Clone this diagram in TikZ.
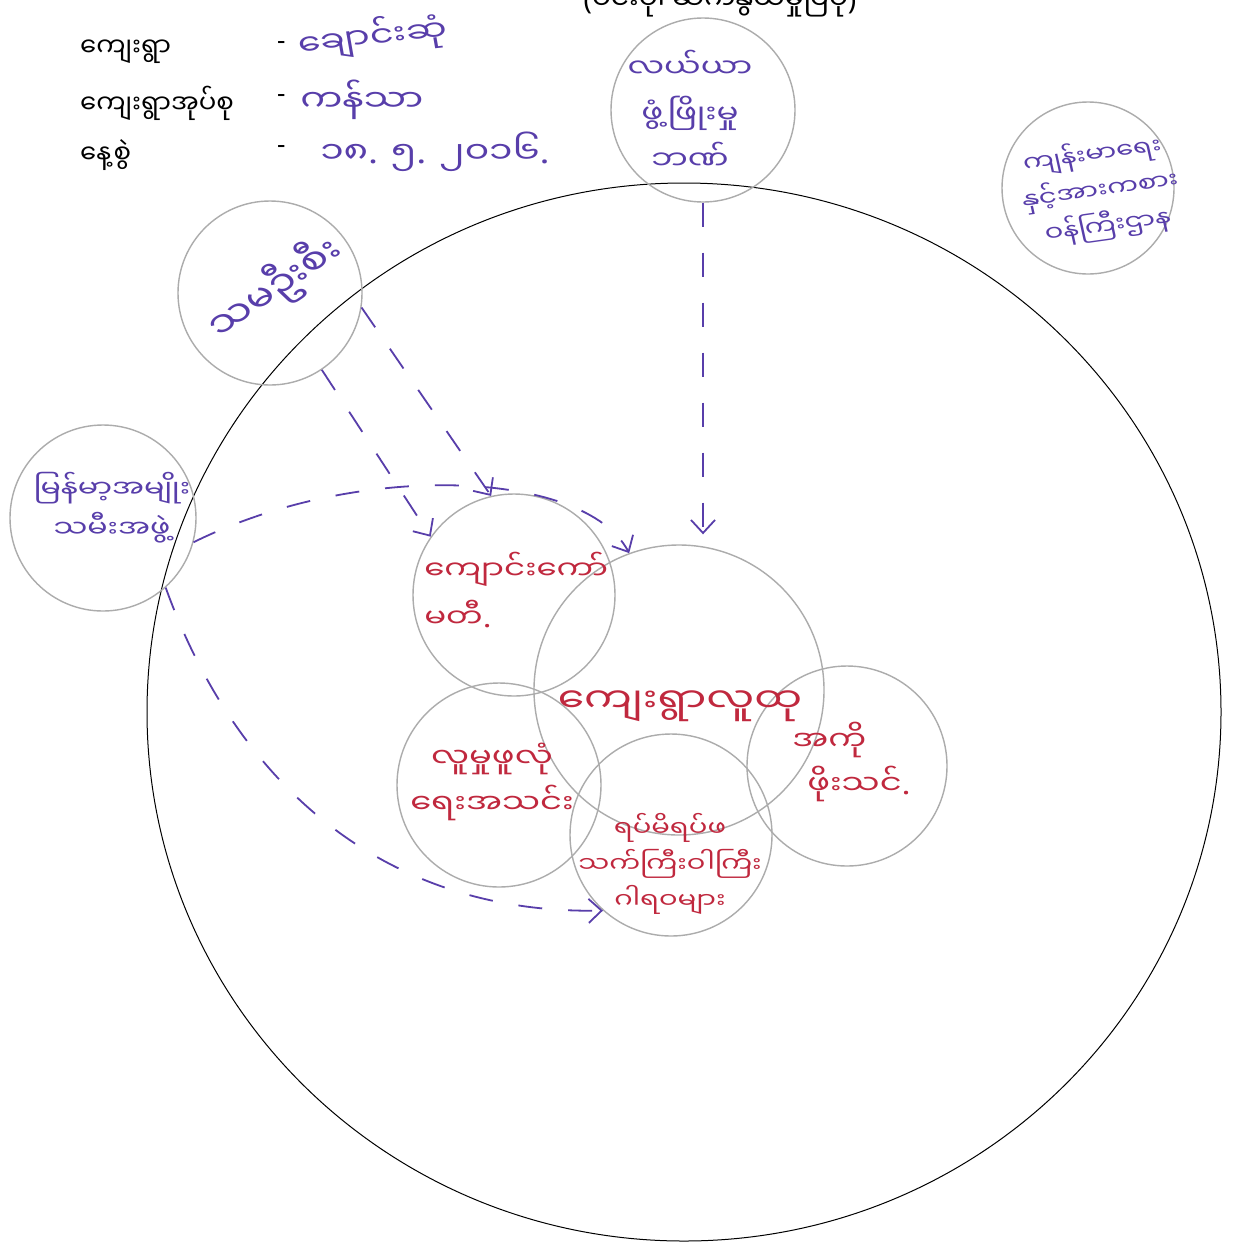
\documentclass[tikz,border=0pt]{standalone}
\usepackage{fontspec}
\newfontfamily\mm[Script=Myanmar]{Noto Sans Myanmar UI}
\newfontfamily\pn{Noto Sans}
\usetikzlibrary{shapes.geometric,arrows.meta}
\definecolor{pen}{RGB}{88,62,170}
\definecolor{redpen}{RGB}{192,40,62}
\definecolor{ringgray}{RGB}{172,172,172}
\begin{document}
\begin{tikzpicture}[x=1pt,y=-1pt,
  ring/.style={circle,draw=ringgray,line width=1.4pt,inner sep=0pt},
  hand/.style={text=pen,font=\mm\fontsize{28}{38}\selectfont,align=center,inner sep=0pt,xscale=1.25},
  redhand/.style={text=redpen,font=\mm\fontsize{28}{40}\selectfont,align=center,inner sep=0pt,xscale=1.25},
  printed/.style={font=\mm\fontsize{26}{30}\selectfont,inner sep=0pt},
  flow/.style={draw=pen,line width=1.8pt,dash pattern=on 24pt off 26pt,
    -{Straight Barb[length=13pt,width=24pt,line width=1.8pt]}}]
\useasboundingbox (0,0) rectangle (1244,1243);
\fill[white] (0,0) rectangle (1244,1243);

% big outer circle
\node[draw=black,line width=1pt,ellipse,minimum width=1074pt,minimum height=1058pt,inner sep=0pt] (village) at (684,712) {};

% title (cut off at top)
\node[printed,anchor=base,font=\mm\fontsize{28}{30}\selectfont] (title) at (720,9) {{\pn(}ဗင်းပုံ၊ ဆက်နွယ်မှုပြပုံ{\pn)}};

% info list
\node[printed,anchor=west] (lbl1) at (80,52) {ကျေးရွာ};
\node[printed,anchor=west] (lbl2) at (80,103) {ကျေးရွာအုပ်စု};
\node[printed,anchor=west] (lbl3) at (80,155) {နေ့စွဲ};
\node[printed,anchor=west] (dash1) at (277,46) {\pn -};
\node[printed,anchor=west] (dash2) at (277,99) {\pn -};
\node[printed,anchor=west] (dash3) at (277,150) {\pn -};
\node[hand,anchor=west,rotate=8,font=\mm\fontsize{29}{38}\selectfont] (val1) at (298,45) {ချောင်းဆုံ};
\node[hand,anchor=west,font=\mm\fontsize{30}{38}\selectfont] (val2) at (300,100) {ကန်သာ};
\node[hand,anchor=west,font=\mm\fontsize{30}{38}\selectfont] (val3) at (320,152) {၁၈{\pn .} ၅{\pn .} ၂၀၁၆{\pn .}};

% outer circles
\node[ring,minimum size=184pt] (cLay) at (703,110) {};
\node[ring,minimum size=172pt] (cHealth) at (1088,188) {};
\node[ring,minimum size=184pt] (cSama) at (270,293) {};
\node[ring,minimum size=186pt] (cMwaf) at (103,518) {};

% inner circles
\node[ring,minimum size=202pt] (cKyaung) at (514,595) {};
\node[ring,minimum size=290pt] (cLutu) at (679,690) {};
\node[ring,minimum size=204pt] (cWelfare) at (499,785) {};
\node[ring,minimum size=202pt] (cElder) at (671,835) {};
\node[ring,minimum size=200pt] (cAko) at (847,766) {};

% purple texts
\node[hand,font=\mm\fontsize{26}{46}\selectfont] (tLay) at (690,110) {လယ်ယာ\\ဖွံ့ဖြိုးမှု\\ဘဏ်};
\node[hand,font=\mm\fontsize{22}{36}\selectfont,rotate=10] (tHealth) at (1100,190) {ကျန်းမာရေး\\နှင့်အားကစား\\ဝန်ကြီးဌာန};
\node[hand,rotate=40,font=\mm\fontsize{34}{40}\selectfont] (tSama) at (275,288) {သမဦးစီး};
\node[hand,font=\mm\fontsize{24}{40}\selectfont] (tMwaf) at (112,508) {မြန်မာ့အမျိုး\\သမီးအဖွဲ့};

% red texts
\node[redhand,align=left,anchor=west,font=\mm\fontsize{26}{48}\selectfont] (tKyaung) at (424,590) {ကျောင်းကော်\\မတီ{\pn .}};
\node[redhand,font=\mm\fontsize{34}{40}\selectfont] (tLutu) at (680,706) {ကျေးရွာလူထု};
\node[redhand,font=\mm\fontsize{27}{46}\selectfont] (tWelfare) at (492,782) {လူမှုဖူလုံ\\ရေးအသင်း};
\node[redhand,font=\mm\fontsize{22}{36}\selectfont] (tElder) at (670,864) {ရပ်မိရပ်ဖ\\သက်ကြီးဝါကြီး\\ဂါရဝများ};
\node[redhand,align=left,anchor=west,font=\mm\fontsize{27}{44}\selectfont] (tAko) at (792,762) {အကို\\\hspace*{12pt}ဖိုးသင်{\pn .}};

% arrows
\draw[flow] (cLay.south) -- ([yshift=10pt]cLay.south |- cLutu.north);
\draw[flow] (cSama.-56) -- (cKyaung.145);
\draw[flow] (cSama.-9) -- (cKyaung.103);
\draw[flow] (cMwaf.-15) .. controls (360,460) and (585,470) .. (cLutu.110);
\draw[flow] (cMwaf.-48) .. controls (235,780) and (380,915) .. (cElder.228);
\end{tikzpicture}
\end{document}
